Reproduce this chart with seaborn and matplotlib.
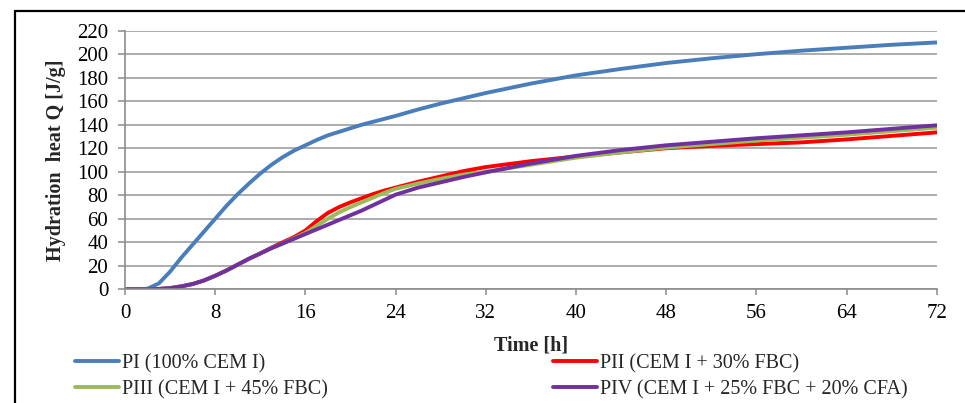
import numpy as np
import pandas as pd
import matplotlib
matplotlib.use("Agg")
import matplotlib.pyplot as plt
from matplotlib.lines import Line2D
import seaborn as sns

# Hydration time [h]
time_h = [0, 1, 2, 3, 4, 5, 6, 7, 8, 9, 10, 11, 12, 13, 14, 15, 16, 17, 18,
          19, 20, 21, 22, 23, 24, 26, 28, 30, 32, 36, 40, 44, 48, 52, 56, 60,
          64, 68, 72]

# Cumulative hydration heat Q [J/g]
q_pi = [0, 0, 0.5, 5, 15, 27, 38, 49, 60, 71, 81, 90, 98.5, 106, 112.5, 118,
        122.5, 127, 131, 134, 137, 140, 142.5, 145, 147.5, 153, 158, 162.5,
        167, 175, 182, 187.5, 192.5, 196.5, 200, 203, 205.5, 208, 210]
q_pii = [0, 0, 0, 0.3, 1, 2.5, 4.5, 7.5, 11.5, 16, 21, 26, 30.5, 35.5, 40,
         44.5, 50, 58, 65, 70, 74, 77.5, 81, 84, 86.5, 91.5, 96, 100.5, 104,
         109, 113, 116.5, 120, 122, 123.5, 125, 127.5, 130.5, 133.5]
q_piii = [0, 0, 0, 0.3, 1, 2.5, 4.5, 7.5, 11.5, 16, 21, 26, 30.5, 35, 39,
          43.5, 48, 54, 60, 65.5, 70, 74, 78, 82, 85.5, 90, 94, 97.5, 100,
          106, 112, 116.5, 120.5, 123.5, 126.5, 129, 131.5, 134.5, 137.5]
q_piv = [0, 0, 0, 0.3, 1, 2.5, 4.5, 7.5, 11.5, 16, 21, 26, 30.5, 35, 39, 43,
         47, 51, 55, 59, 63, 67, 71.5, 76, 80.5, 86.5, 91, 95.5, 99.5, 107,
         113.5, 118.5, 122.5, 125.5, 128.5, 131, 133.5, 136.5, 139.5]

series_names = ["PI (100% CEM I)", "PII (CEM I + 30% FBC)",
                "PIII (CEM I + 45% FBC)", "PIV (CEM I + 25% FBC + 20% CFA)"]
series_colors = ["#4A7EBB", "#FF0000", "#9BBB59", "#7030A0"]

x_ticks = [0, 8, 16, 24, 32, 40, 48, 56, 64, 72]
y_ticks = [0, 20, 40, 60, 80, 100, 120, 140, 160, 180, 200, 220]

df = pd.concat([
    pd.DataFrame({"Time": time_h, "Q": vals, "Mix": name})
    for name, vals in zip(series_names, [q_pi, q_pii, q_piii, q_piv])
], ignore_index=True)

sns.set_theme(style="white")
plt.rcParams["font.family"] = ["Liberation Serif", "DejaVu Serif"]

W, H = 965, 403
fig = plt.figure(figsize=(W / 100, H / 100), dpi=100)
ax = fig.add_axes([125 / W, 1 - 289.3 / H, (936.7 - 125) / W, (289.3 - 30.7) / H])

palette = dict(zip(series_names, series_colors))
sns.lineplot(data=df, x="Time", y="Q", hue="Mix", hue_order=series_names,
             palette=palette, linewidth=2.8, legend=False, ax=ax,
             solid_joinstyle="round")

ax.set_xlim(0, 72)
ax.set_ylim(0, 220)
ax.set_xticks(x_ticks)
ax.set_yticks(y_ticks)
ax.set_xticklabels([str(t) for t in x_ticks])
ax.set_yticklabels([str(t) for t in y_ticks])

ax.yaxis.grid(True, color="#A6A6A6", linewidth=1.3)
ax.xaxis.grid(False)
ax.set_axisbelow(True)

for side in ["top", "right"]:
    ax.spines[side].set_visible(False)
for side in ["left", "bottom"]:
    ax.spines[side].set_color("#8C8C8C")
    ax.spines[side].set_linewidth(1.2)

ax.tick_params(axis="y", which="major", direction="out", length=5,
               width=1.1, color="#8C8C8C", pad=7, labelsize=15,
               labelcolor="black", left=True)
ax.tick_params(axis="x", which="major", direction="out", length=4.5,
               width=1.1, color="#8C8C8C", pad=6, labelsize=15,
               labelcolor="black", bottom=True)

ax.set_xlabel("Time [h]", fontsize=14.5, fontweight="bold", labelpad=9)
ax.set_ylabel("Hydration  heat Q [J/g]", fontsize=14.5, fontweight="bold",
              labelpad=8)

# Legend: two columns, each a stacked pair of entries
handles = [Line2D([0], [0], color=c, linewidth=2.8) for c in series_colors]
leg_kw = dict(frameon=False, fontsize=14.5, handlelength=2.2,
              handletextpad=0.12, labelspacing=0.33, borderpad=0,
              borderaxespad=0, loc="center left")
ymid = 1 - 376.5 / H
fig.legend([handles[0], handles[2]], [series_names[0], series_names[2]],
           bbox_to_anchor=(75 / W, ymid), **leg_kw)
fig.legend([handles[1], handles[3]], [series_names[1], series_names[3]],
           bbox_to_anchor=(553 / W, ymid), **leg_kw)

# Outer frame lines (top and left edges)
ytop = 1 - 10.5 / H
xl = 15 / W
fig.add_artist(Line2D([xl, 1.0], [ytop, ytop], transform=fig.transFigure,
                      color="black", linewidth=1.6))
fig.add_artist(Line2D([xl, xl], [0.0, ytop], transform=fig.transFigure,
                      color="black", linewidth=1.6))

fig.savefig("out.png", dpi=100, facecolor="white")
